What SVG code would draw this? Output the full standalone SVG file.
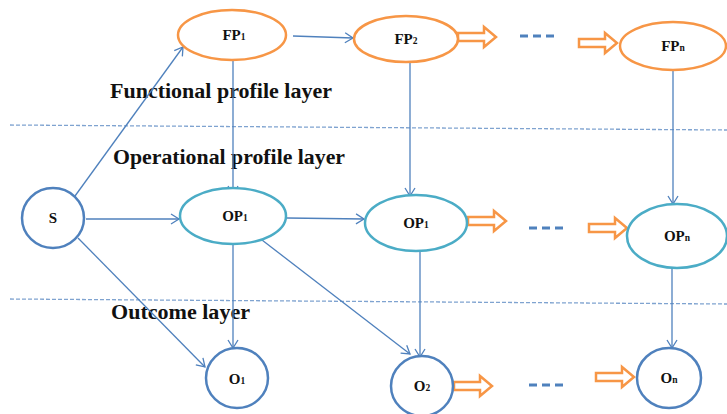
<svg xmlns="http://www.w3.org/2000/svg" xmlns:xlink="http://www.w3.org/1999/xlink" width="727" height="414" viewBox="0 0 727 414">
<style>
.fp{fill:#fff;stroke:#F79646;stroke-width:2.5}
.op{fill:#fff;stroke:#4BACC6;stroke-width:2.5}
.o{fill:#fff;stroke:#4F81BD;stroke-width:2.5}
.lbl{font-family:"Liberation Serif",serif;font-weight:bold;font-size:15px;fill:#111;text-anchor:middle}
.sub{font-size:9.5px}
.layer{font-family:"Liberation Serif",serif;font-weight:bold;font-size:20px;fill:#111}
.c{stroke:#4F81BD;stroke-width:1.3;fill:none;marker-end:url(#ah)}
.sep{stroke:#7FA3D0;stroke-width:1.3;stroke-dasharray:4 2;fill:none}
.dash{stroke:#4F81BD;stroke-width:3;stroke-dasharray:8 5;fill:none}
.blk{fill:#fff;stroke:#F79646;stroke-width:2.5}
</style>
<defs>
<marker id="ah" markerWidth="12" markerHeight="12" refX="10" refY="6" orient="auto" markerUnits="userSpaceOnUse">
<path d="M2,1 L10,6 L2,11" fill="none" stroke="#4F81BD" stroke-width="1.3"/>
</marker>
<path id="blkarrow" d="M0,-4 H26 V-10 L38,0 L26,10 V4 H0 Z"/>
</defs>
<g id="separators">
<path class="sep" d="M10,125 L727,130"/>
<path class="sep" d="M10,299 L727,304"/>
</g>
<g id="layer-labels">
<text class="layer" x="110" y="98" textLength="222" lengthAdjust="spacingAndGlyphs">Functional profile layer</text>
<text class="layer" x="113" y="164" textLength="232" lengthAdjust="spacingAndGlyphs">Operational profile layer</text>
<text class="layer" x="111" y="319" textLength="139" lengthAdjust="spacingAndGlyphs">Outcome layer</text>
</g>
<g id="connectors">
<path class="c" d="M75,196 L183,47"/>
<path class="c" d="M86,219 L179,219"/>
<path class="c" d="M78,238 L205,367"/>
<path class="c" d="M293,36 L353,38"/>
<path class="c" d="M233,61 L233,194"/>
<path class="c" d="M410,63 L410,196"/>
<path class="c" d="M673,71 L673,204"/>
<path class="c" d="M287,218 L364,219"/>
<path class="c" d="M233,245 L233,348"/>
<path class="c" d="M262,240 L410,354"/>
<path class="c" d="M420,252 L420,357"/>
<path class="c" d="M672,269 L672,348"/>
<use href="#blkarrow" class="blk" x="458" y="37"/>
<use href="#blkarrow" class="blk" x="579" y="43"/>
<use href="#blkarrow" class="blk" x="468" y="221"/>
<use href="#blkarrow" class="blk" x="589" y="228"/>
<use href="#blkarrow" class="blk" x="454" y="386"/>
<use href="#blkarrow" class="blk" x="596" y="377"/>
<path class="dash" d="M520,36 L558,36"/>
<path class="dash" d="M529,228 L566,228"/>
<path class="dash" d="M529,385 L566,385"/>
</g>
<g id="S"><ellipse class="o" cx="53" cy="218" rx="31" ry="30"/><text class="lbl" x="53" y="223">S</text></g>
<g id="FP1"><ellipse class="fp" cx="232" cy="35" rx="54" ry="25"/><text class="lbl" x="234" y="40">FP<tspan class="sub">1</tspan></text></g>
<g id="FP2"><ellipse class="fp" cx="406" cy="39" rx="52" ry="23"/><text class="lbl" x="406" y="44">FP<tspan class="sub">2</tspan></text></g>
<g id="FPn"><ellipse class="fp" cx="673" cy="46" rx="53" ry="24"/><text class="lbl" x="673" y="51">FP<tspan class="sub">n</tspan></text></g>
<g id="OP1"><ellipse class="op" cx="233" cy="216" rx="53" ry="28"/><text class="lbl" x="235" y="221">OP<tspan class="sub">1</tspan></text></g>
<g id="OP1b"><ellipse class="op" cx="416" cy="223" rx="51" ry="28"/><text class="lbl" x="416" y="228">OP<tspan class="sub">1</tspan></text></g>
<g id="OPn"><ellipse class="op" cx="677" cy="236" rx="50" ry="32"/><text class="lbl" x="677" y="241">OP<tspan class="sub">n</tspan></text></g>
<g id="O1"><ellipse class="o" cx="237" cy="378" rx="31" ry="30"/><text class="lbl" x="237" y="384">O<tspan class="sub">1</tspan></text></g>
<g id="O2"><ellipse class="o" cx="422" cy="386" rx="31" ry="30"/><text class="lbl" x="422" y="391">O<tspan class="sub">2</tspan></text></g>
<g id="On"><ellipse class="o" cx="669" cy="378" rx="32" ry="30"/><text class="lbl" x="669" y="383">O<tspan class="sub">n</tspan></text></g>
</svg>
